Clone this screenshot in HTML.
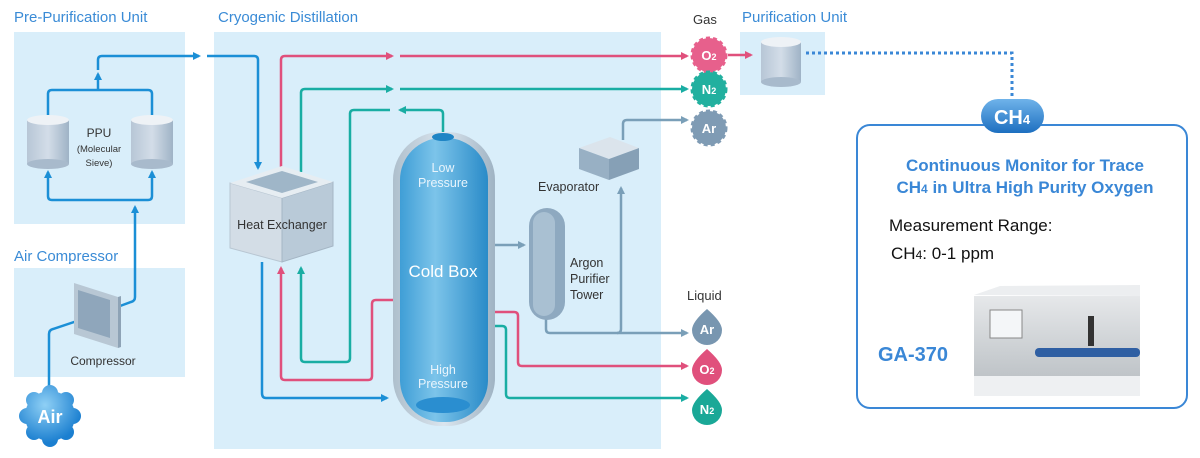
<!DOCTYPE html>
<html><head><meta charset="utf-8"><style>
html,body{margin:0;padding:0;background:#fff;}
svg{display:block;font-family:"Liberation Sans",Arial,sans-serif;}
</style></head><body>
<svg width="1200" height="458" viewBox="0 0 1200 458" xmlns="http://www.w3.org/2000/svg">
<defs>
<marker id="ab" markerWidth="8" markerHeight="8" refX="6" refY="4" orient="auto" markerUnits="userSpaceOnUse"><path d="M0,0 L8,4 L0,8 z" fill="#1b8fd6"/></marker>
<marker id="ap" markerWidth="8" markerHeight="8" refX="6" refY="4" orient="auto" markerUnits="userSpaceOnUse"><path d="M0,0 L8,4 L0,8 z" fill="#e0507c"/></marker>
<marker id="at" markerWidth="8" markerHeight="8" refX="6" refY="4" orient="auto" markerUnits="userSpaceOnUse"><path d="M0,0 L8,4 L0,8 z" fill="#19ada3"/></marker>
<marker id="ag" markerWidth="8" markerHeight="8" refX="6" refY="4" orient="auto" markerUnits="userSpaceOnUse"><path d="M0,0 L8,4 L0,8 z" fill="#7a9fb8"/></marker>
<linearGradient id="cyl" x1="0" x2="1"><stop offset="0" stop-color="#b7c6d6"/><stop offset="0.5" stop-color="#d3dde8"/><stop offset="1" stop-color="#9fb3c6"/></linearGradient>
<linearGradient id="cb" x1="0" x2="1"><stop offset="0" stop-color="#3f9ed6"/><stop offset="0.4" stop-color="#7cc4ea"/><stop offset="1" stop-color="#2a8bc8"/></linearGradient>
<linearGradient id="cbo" x1="0" x2="1"><stop offset="0" stop-color="#aebfcc"/><stop offset="0.5" stop-color="#dbe5ee"/><stop offset="1" stop-color="#9fb3c3"/></linearGradient>
<linearGradient id="pill" x1="0" y1="0" x2="0" y2="1"><stop offset="0" stop-color="#6fb3ea"/><stop offset="1" stop-color="#1d6fc0"/></linearGradient>
<linearGradient id="inst" x1="0" y1="0" x2="0" y2="1"><stop offset="0" stop-color="#e6e8ea"/><stop offset="1" stop-color="#bfc4c8"/></linearGradient>
<radialGradient id="air" gradientUnits="userSpaceOnUse" cx="45" cy="405" r="38"><stop offset="0" stop-color="#8fd0f5"/><stop offset="1" stop-color="#1b7fd0"/></radialGradient>
</defs>

<rect x="14" y="32" width="171" height="192" fill="#d9eefa"/>
<rect x="14" y="268" width="171" height="109" fill="#d9eefa"/>
<rect x="214" y="32" width="447" height="417" fill="#d9eefa"/>
<rect x="740" y="32" width="85" height="63" fill="#d9eefa"/>

<g fill="#3a8bd6" font-size="15">
<text x="14" y="22">Pre-Purification Unit</text>
<text x="218" y="22">Cryogenic Distillation</text>
<text x="14" y="261">Air Compressor</text>
<text x="742" y="22">Purification Unit</text>
</g>
<text x="693" y="24" font-size="13" fill="#333">Gas</text>
<text x="687" y="300" font-size="13" fill="#333">Liquid</text>

<g fill="none" stroke="#1b8fd6" stroke-width="2.5">
<path d="M48,115 V94 Q48,90 52,90 H148 Q152,90 152,94 V115"/>
<path d="M98,90 V74" marker-end="url(#ab)"/>
<path d="M98,70 V60 Q98,56 102,56 H199" marker-end="url(#ab)"/>
<path d="M207,56 H254 Q258,56 258,60 V168" marker-end="url(#ab)"/>
<path d="M48,196 Q48,200 52,200 H148 Q152,200 152,196 V172" marker-end="url(#ab)"/>
<path d="M48,196 V172" marker-end="url(#ab)"/>
<path d="M120,306 L131,302 Q135,301 135,297 V207" marker-end="url(#ab)"/>
<path d="M49,390 V334 Q49,330 53,329 L86,318" marker-end="url(#ab)"/>
<path d="M262,262 V393 Q262,398 266,398 H387" marker-end="url(#ab)"/>
</g>
<g fill="none" stroke="#e0507c" stroke-width="2.5">
<path d="M281,172 V60 Q281,56 285,56 H392" marker-end="url(#ap)"/>
<path d="M400,56 H687" marker-end="url(#ap)"/>
<path d="M395,300 H376 Q372,300 372,304 V376 Q372,380 368,380 H285 Q281,380 281,376 V268" marker-end="url(#ap)"/>
<path d="M493,312 H514 Q518,312 518,316 V362 Q518,366 522,366 H687" marker-end="url(#ap)"/>
<path d="M728,55 H751" marker-end="url(#ap)"/>
</g>
<g fill="none" stroke="#19ada3" stroke-width="2.5">
<path d="M301,172 V93 Q301,89 305,89 H392" marker-end="url(#at)"/>
<path d="M400,89 H687" marker-end="url(#at)"/>
<path d="M443,135 V114 Q443,110 439,110 H400" marker-end="url(#at)"/>
<path d="M390,110 H354 Q350,110 350,114 V358 Q350,362 346,362 H305 Q301,362 301,358 V268" marker-end="url(#at)"/>
<path d="M493,326 H502 Q506,326 506,330 V394 Q506,398 510,398 H687" marker-end="url(#at)"/>
</g>
<g fill="none" stroke="#7a9fb8" stroke-width="2.5">
<path d="M493,245 H524" marker-end="url(#ag)"/>
<path d="M546,316 V329 Q546,333 550,333 H687" marker-end="url(#ag)"/>
<path d="M617,333 Q621,333 621,329 V188" marker-end="url(#ag)"/>
<path d="M623,140 V124 Q623,120 627,120 H687" marker-end="url(#ag)"/>
</g>
<path d="M806,53 H1012 V97" fill="none" stroke="#3a87d6" stroke-width="3" stroke-dasharray="3,3"/>

<g>
<rect x="27" y="120" width="42" height="44" fill="url(#cyl)"/>
<ellipse cx="48" cy="164" rx="21" ry="5" fill="#a8bacc"/>
<ellipse cx="48" cy="120" rx="21" ry="5" fill="#eef2f6"/>
<rect x="131" y="120" width="42" height="44" fill="url(#cyl)"/>
<ellipse cx="152" cy="164" rx="21" ry="5" fill="#a8bacc"/>
<ellipse cx="152" cy="120" rx="21" ry="5" fill="#eef2f6"/>
</g>
<text x="99" y="137" font-size="12" fill="#333" text-anchor="middle">PPU</text>
<text x="99" y="152" font-size="9.5" fill="#333" text-anchor="middle">(Molecular</text>
<text x="99" y="166" font-size="9.5" fill="#333" text-anchor="middle">Sieve)</text>

<rect x="761" y="42" width="40" height="40" fill="url(#cyl)"/>
<ellipse cx="781" cy="82" rx="20" ry="5" fill="#a8bacc"/>
<ellipse cx="781" cy="42" rx="20" ry="5" fill="#eef2f6"/>

<polygon points="74,283 118,297 118,348 74,334" fill="#b8c7d4"/>
<polygon points="78,290 110,300 110,338 78,328" fill="#8fa6bb"/>
<polygon points="118,297 121,296 121,347 118,348" fill="#8ea3b6"/>
<text x="103" y="365" font-size="12" fill="#333" text-anchor="middle">Compressor</text>

<g fill="url(#air)">
<circle cx="50" cy="416" r="25"/>
<circle cx="50" cy="393" r="8"/><circle cx="50" cy="439" r="8"/>
<circle cx="27" cy="416" r="8"/><circle cx="73" cy="416" r="8"/>
<circle cx="34" cy="400" r="8"/><circle cx="66" cy="400" r="8"/>
<circle cx="34" cy="432" r="8"/><circle cx="66" cy="432" r="8"/>
</g>
<text x="50" y="423" font-size="18" font-weight="bold" fill="#fff" text-anchor="middle">Air</text>

<polygon points="230,183 282,198 282,262 230,248" fill="#d3dde6" stroke="#b8c6d2"/>
<polygon points="282,198 333,182 333,246 282,262" fill="#b9cad8" stroke="#a5b6c5"/>
<polygon points="230,183 282,166 333,182 282,198" fill="#e6edf2"/>
<polygon points="246,182 282,171 318,182 282,193" fill="#9fb6c8"/>
<text x="282" y="229" font-size="12.5" fill="#333" text-anchor="middle">Heat Exchanger</text>

<rect x="393" y="132" width="102" height="294" rx="48" fill="url(#cbo)"/>
<rect x="400" y="138" width="88" height="284" rx="42" fill="url(#cb)"/>
<ellipse cx="443" cy="137" rx="11" ry="4" fill="#1f85c5"/>
<ellipse cx="443" cy="405" rx="27" ry="8" fill="#2a8ed0"/>
<g fill="#fff" text-anchor="middle">
<text x="443" y="172" font-size="12.5" fill="#e8f4fc">Low</text>
<text x="443" y="187" font-size="12.5" fill="#e8f4fc">Pressure</text>
<text x="443" y="277" font-size="17">Cold Box</text>
<text x="443" y="374" font-size="12.5" fill="#e8f4fc">High</text>
<text x="443" y="388" font-size="12.5" fill="#e8f4fc">Pressure</text>
</g>

<rect x="529" y="208" width="36" height="112" rx="18" fill="#8ea9c0"/>
<rect x="533" y="212" width="22" height="104" rx="11" fill="#a9c0d2"/>
<text x="570" y="267" font-size="12.5" fill="#333">Argon</text>
<text x="570" y="283" font-size="12.5" fill="#333">Purifier</text>
<text x="570" y="299" font-size="12.5" fill="#333">Tower</text>

<polygon points="579,148 610,137 639,148 609,159" fill="#dbe4ec"/>
<polygon points="579,148 609,159 609,180 579,169" fill="#98b0c4"/>
<polygon points="609,159 639,148 639,169 609,180" fill="#86a0b6"/>
<text x="538" y="191" font-size="12.5" fill="#333">Evaporator</text>

<g>
<circle cx="709" cy="55" r="17" fill="#e7608c" stroke="#e7608c" stroke-width="3" stroke-dasharray="4,3"/>
<circle cx="709" cy="89" r="17" fill="#22b09f" stroke="#22b09f" stroke-width="3" stroke-dasharray="4,3"/>
<circle cx="709" cy="128" r="17" fill="#7f9bb4" stroke="#7f9bb4" stroke-width="3" stroke-dasharray="4,3"/>
</g>
<g fill="#fff" font-size="13" font-weight="bold" text-anchor="middle">
<text x="709" y="60">O<tspan font-size="9">2</tspan></text>
<text x="709" y="94">N<tspan font-size="9">2</tspan></text>
<text x="709" y="133">Ar</text>
</g>
<path d="M707,309 Q722,322 722,330 A15,15 0 0 1 692,330 Q692,322 707,309z" fill="#7896b0"/>
<path d="M707,349 Q722,362 722,370 A15,15 0 0 1 692,370 Q692,362 707,349z" fill="#e0507c"/>
<path d="M707,389 Q722,402 722,410 A15,15 0 0 1 692,410 Q692,402 707,389z" fill="#1aa897"/>
<g fill="#fff" font-size="13" font-weight="bold" text-anchor="middle">
<text x="707" y="334">Ar</text>
<text x="707" y="374">O<tspan font-size="9">2</tspan></text>
<text x="707" y="414">N<tspan font-size="9">2</tspan></text>
</g>

<rect x="857" y="125" width="330" height="283" rx="13" fill="#fff" stroke="#3a87d6" stroke-width="2"/>
<rect x="981" y="99" width="63" height="34" rx="17" fill="url(#pill)"/>
<text x="1012" y="124" font-size="20" font-weight="bold" fill="#fff" text-anchor="middle">CH<tspan font-size="13">4</tspan></text>
<g fill="#3a87d6" font-weight="bold" font-size="17" text-anchor="middle">
<text x="1025" y="171">Continuous Monitor for Trace</text>
<text x="1025" y="193">CH<tspan font-size="12">4</tspan> in Ultra High Purity Oxygen</text>
</g>
<text x="889" y="231" font-size="17" fill="#111">Measurement Range:</text>
<text x="891" y="259" font-size="17" fill="#111">CH<tspan font-size="12">4</tspan>: 0-1 ppm</text>
<text x="878" y="361" font-size="20" font-weight="bold" fill="#3a87d6">GA-370</text>
<polygon points="974,295 1000,286 1140,285 1140,296" fill="#eceef0"/>
<rect x="974" y="296" width="166" height="80" fill="url(#inst)"/>
<rect x="990" y="310" width="32" height="28" fill="#f4f6f8" stroke="#888" stroke-width="1"/>
<rect x="1088" y="316" width="6" height="30" fill="#333"/>
<rect x="1035" y="348" width="105" height="9" rx="4" fill="#2f5fa3"/>
<rect x="974" y="376" width="166" height="20" fill="#eef0f2"/>
</svg>
</body></html>
